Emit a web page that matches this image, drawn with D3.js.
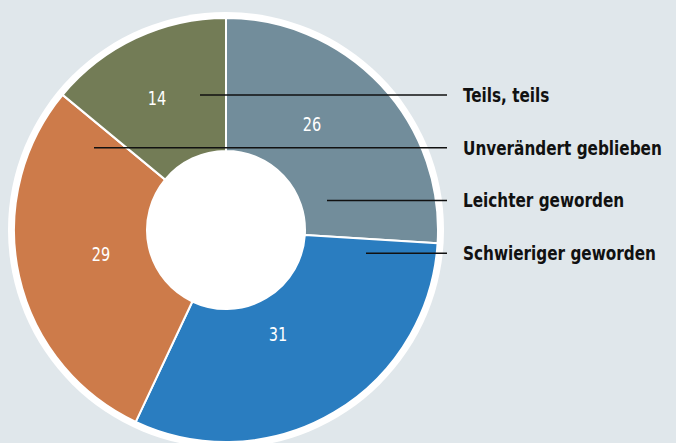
<!DOCTYPE html>
<html>
<head>
<meta charset="utf-8">
<script src="https://cdn.jsdelivr.net/npm/d3@7"></script>
<style>
  html, body { margin: 0; padding: 0; background: #e0e7eb; }
  svg { display: block; }
</style>
</head>
<body>
<script>
// Data
const categories  = ["Leichter geworden", "Schwieriger geworden", "Unverändert geblieben", "Teils, teils"]
const values      = [26, 31, 29, 14]
const legendOrder = ["Teils, teils", "Unverändert geblieben", "Leichter geworden", "Schwieriger geworden"]

// Layout
var width  = 676
var height = 443
var cx = 226, cy = 230
var outerR = 212, innerR = 79, ringR = 218
var colors = ["#728d9b", "#2a7dc0", "#cd7b4a", "#737c56"]
// nudges of value labels from the slice centroid
var labelNudge = [[-20, -6], [-22, -21], [17, -7], [-7, 0]]
// where each leader line starts (x), legend order
var leaderStart = [200, 94, 327, 366]
var leaderEnd = 447
var textX = 463
var longestText = 199   // width of the longest legend entry in the reference
var font = '"DejaVu Sans Condensed", "Liberation Sans", sans-serif'

let svg = d3.select('body')
            .append('svg')
            .attr('width', width)
            .attr('height', height)

svg.append('rect')
   .attr('width', width)
   .attr('height', height)
   .attr('fill', '#e0e7eb')

let g = svg.append('g').attr('transform', `translate(${cx},${cy})`)

// white ring behind the donut
g.append('circle').attr('r', ringR).attr('fill', '#fff')
g.append('circle').attr('r', innerR).attr('fill', '#fff')

let pie = d3.pie().sort(null).value(d => d)
let arc = d3.arc().innerRadius(innerR).outerRadius(outerR)
let arcs = pie(values)

g.selectAll('path')
 .data(arcs)
 .enter()
 .append('path')
 .attr('d', arc)
 .attr('fill', (d, i) => colors[i])
 .attr('stroke', '#fff')
 .attr('stroke-width', 2)
 .attr('stroke-linejoin', 'round')

// value labels, squeezed a bit to look condensed
g.selectAll('g.val')
 .data(arcs)
 .enter()
 .append('g')
 .attr('class', 'val')
 .attr('transform', (d, i) => {
     let c = arc.centroid(d)
     return `translate(${c[0] + labelNudge[i][0]},${c[1] + labelNudge[i][1]}) scale(0.85,1)`
 })
 .append('text')
 .attr('text-anchor', 'middle')
 .attr('dominant-baseline', 'central')
 .attr('fill', '#fff')
 .style('font-family', font)
 .style('font-size', '19px')
 .text(d => d.data)

// legend with leader lines
let yScale = d3.scalePoint().domain(legendOrder).range([95, 253.3])

let legend = svg.append('g')
legend.selectAll('line')
      .data(legendOrder)
      .enter()
      .append('line')
      .attr('x1', (d, i) => leaderStart[i])
      .attr('x2', leaderEnd)
      .attr('y1', d => yScale(d))
      .attr('y2', d => yScale(d))
      .attr('stroke', '#111')
      .attr('stroke-width', 1.5)

let textG = legend.append('g')
let texts = textG.selectAll('text')
      .data(legendOrder)
      .enter()
      .append('text')
      .attr('x', 0)
      .attr('y', d => yScale(d))
      .attr('dominant-baseline', 'central')
      .attr('fill', '#111')
      .style('font-family', font)
      .style('font-weight', 'bold')
      .style('font-size', '19px')
      .text(d => d)

// squeeze the legend so its longest entry is as wide as in the reference
let maxW = d3.max(texts.nodes(), n => n.getComputedTextLength())
textG.attr('transform', `translate(${textX},0) scale(${longestText / maxW},1)`)
</script>
</body>
</html>
